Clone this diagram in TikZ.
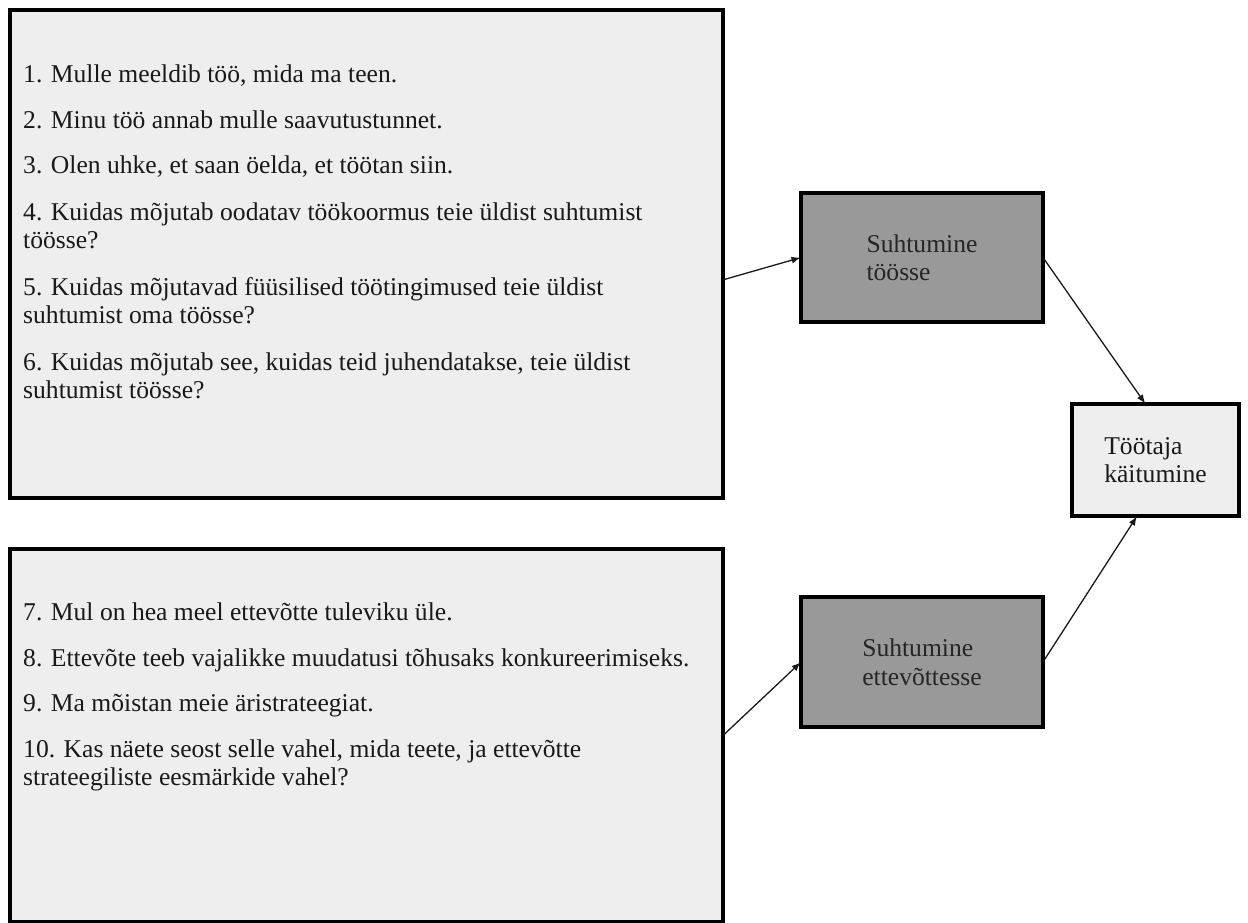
\documentclass[tikz,border=0pt]{standalone}
\usepackage{fontspec}
\setmainfont{Liberation Serif}
\usetikzlibrary{arrows.meta,calc}
\definecolor{boxlight}{HTML}{EEEEEE}
\definecolor{boxgrey}{HTML}{999999}
\tikzset{
  bigbox/.style={draw=black, line width=4.5pt, fill=boxlight, rectangle, inner sep=0pt, outer sep=0pt},
  greybox/.style={draw=black, line width=4.5pt, fill=boxgrey, rectangle, inner sep=0pt, outer sep=0pt, align=left, text=black!85},
  lightbox/.style={draw=black, line width=4.5pt, fill=boxlight, rectangle, inner sep=0pt, outer sep=0pt, align=left, text=black!90},
  item/.style={anchor=base west, inner sep=0pt, align=left, text=black!90},
  arr/.style={line width=1.3pt, -{Latex[length=9pt,width=7pt]}, black!90, shorten >=0.5pt}
}
\begin{document}
\begin{tikzpicture}[x=1pt,y=-1pt, every node/.style={font=\fontsize{25.6}{28.5}\selectfont}]
\useasboundingbox (0,0) rectangle (1248,923);
% big boxes
\node[bigbox, minimum width=713pt, minimum height=488pt] (q1) at (366.5,254) {};
\node[bigbox, minimum width=713pt, minimum height=373pt] (q2) at (366.5,735.5) {};
% small boxes
\node[greybox, minimum width=242pt, minimum height=129pt] (s1) at (922,257.5) {Suhtumine\\töösse};
\node[greybox, minimum width=242pt, minimum height=130pt] (s2) at (922,662) {Suhtumine\\ettevõttesse};
\node[lightbox, minimum width=167pt, minimum height=112pt] (t) at (1155.5,460) {Töötaja\\käitumine};
% items top (two-line items: base anchor sits on the last line)
\node[item] (i1) at (23,83) {1. Mulle meeldib töö, mida ma teen.};
\node[item] (i2) at (23,129) {2. Minu töö annab mulle saavutustunnet.};
\node[item] (i3) at (23,174) {3. Olen uhke, et saan öelda, et töötan siin.};
\node[item] (i4) at (23,248.5) {4. Kuidas mõjutab oodatav töökoormus teie üldist suhtumist\\töösse?};
\node[item] (i5) at (23,323.5) {5. Kuidas mõjutavad füüsilised töötingimused teie üldist\\suhtumist oma töösse?};
\node[item] (i6) at (23,398.5) {6. Kuidas mõjutab see, kuidas teid juhendatakse, teie üldist\\suhtumist töösse?};
% items bottom
\node[item] (i7) at (23,620) {7. Mul on hea meel ettevõtte tuleviku üle.};
\node[item] (i8) at (23,666) {8. Ettevõte teeb vajalikke muudatusi tõhusaks konkureerimiseks.};
\node[item] (i9) at (23,711) {9. Ma mõistan meie äristrateegiat.};
\node[item] (i10) at (23,785.5) {10. Kas näete seost selle vahel, mida teete, ja ettevõtte\\strateegiliste eesmärkide vahel?};
% connectors
\draw[arr] ($(q1.north east)!0.553!(q1.south east)$) -- (s1.west);
\draw[arr] (q2.east) -- (s2.west);
\draw[arr] (s1.east) -- ($(t.north west)!0.44!(t.north east)$);
\draw[arr] (s2.east) -- ($(t.south west)!0.39!(t.south east)$);
\end{tikzpicture}
\end{document}
